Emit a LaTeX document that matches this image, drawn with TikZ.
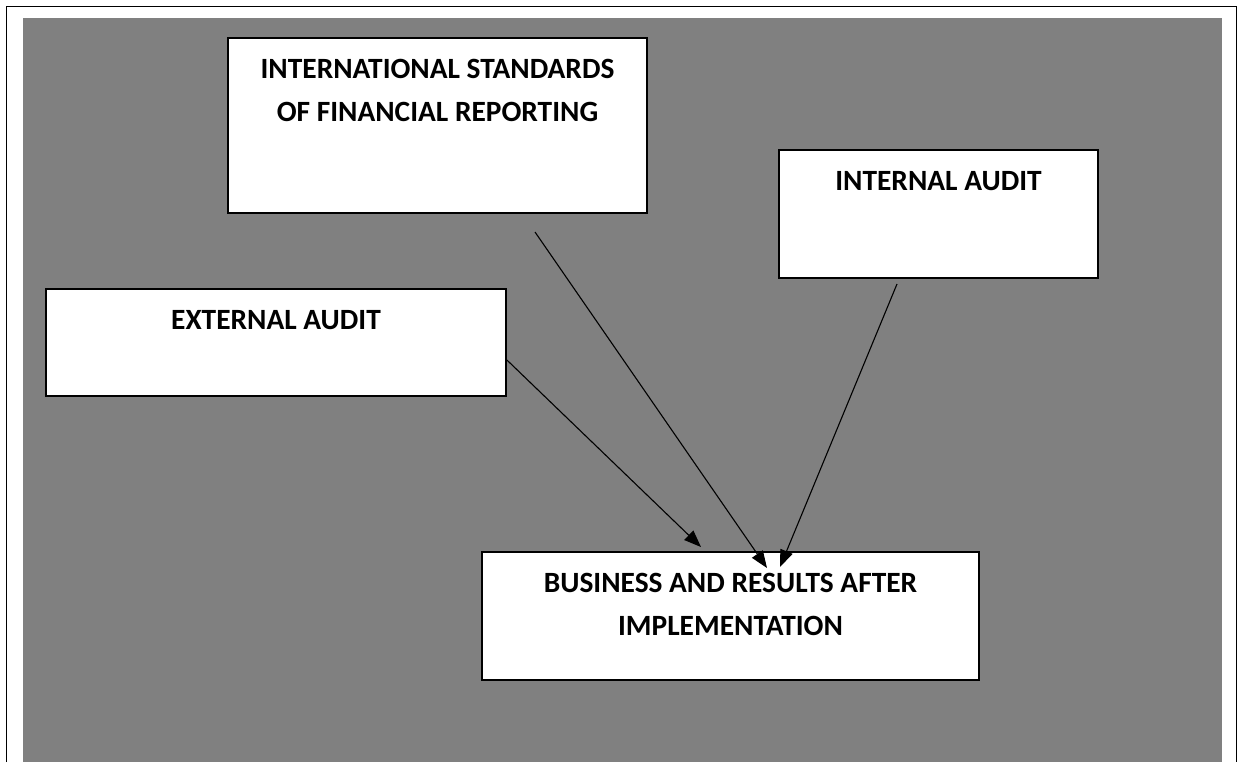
\documentclass[tikz,border=0pt]{standalone}
\usepackage{fontspec}
\setmainfont{Carlito}
\usepackage{tikz}
\usetikzlibrary{arrows.meta,positioning}
\definecolor{bggray}{RGB}{128,128,128}
\tikzset{
  blockbox/.style={draw=black,line width=0.9pt,fill=white,inner sep=0pt},
  blocktext/.style={anchor=north,inner sep=0pt,align=center,yshift=-11pt,
    font=\fontsize{14.7pt}{21.5pt}\selectfont\bfseries},
  linkarrow/.style={-{Triangle[length=8.5pt,width=6.5pt]},line width=0.55pt}
}

\begin{document}
\begin{tikzpicture}[x=0.5pt,y=-0.5pt]
  \useasboundingbox (0,0) rectangle (1238,762);
  \fill[bggray] (23,18) rectangle (1222,762);
  \draw[line width=0.8pt] (6.5,762) -- (6.5,6.5) -- (1236.5,6.5) -- (1236.5,762);
  % blocks
  \node[blockbox,minimum width=209.5pt,minimum height=87.5pt,
    label={[blocktext]north:INTERNATIONAL STANDARDS\\OF FINANCIAL REPORTING}] (isfr) at (437.5,125.5) {};
  \node[blockbox,minimum width=159.5pt,minimum height=64pt,
    label={[blocktext]north:INTERNAL AUDIT}] (intaudit) at (938.5,214) {};
  \node[blockbox,minimum width=230pt,minimum height=53.5pt,
    label={[blocktext]north:EXTERNAL AUDIT}] (extaudit) at (276,342.5) {};
  \node[blockbox,minimum width=248.5pt,minimum height=64pt,
    label={[blocktext]north:BUSINESS AND RESULTS AFTER\\IMPLEMENTATION}] (results) at (730.5,616) {};
  % arrow ends
  \coordinate (isfr-out) at (535,232);
  \coordinate (int-out) at (897,284);
  \coordinate (ext-out) at (extaudit.east |- 0,360);
  \coordinate (isfr-in) at (767,568);
  \coordinate (int-in) at (780,567);
  \coordinate (ext-in) at (701,547);
  \draw[linkarrow] (isfr-out) -- (isfr-in);
  \draw[linkarrow] (int-out) -- (int-in);
  \draw[linkarrow] (ext-out) -- (ext-in);
\end{tikzpicture}
\end{document}
